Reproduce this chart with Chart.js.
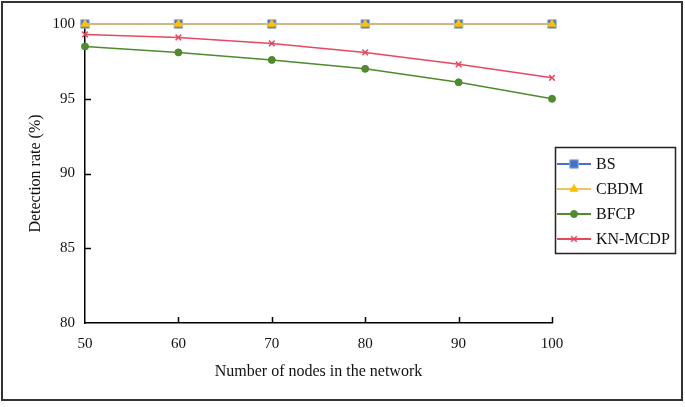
<!DOCTYPE html>
<html>
<head>
<meta charset="utf-8">
<script src="https://cdn.jsdelivr.net/npm/chart.js@4/dist/chart.umd.min.js"></script>
<style>
  html, body { margin: 0; padding: 0; background: #fff; }
  canvas { display: block; }
</style>
</head>
<body>
<canvas id="detChart" width="685" height="407"></canvas>
<script>
// values
const nodes = [50, 60, 70, 80, 90, 100];
const bsRate = [100, 100, 100, 100, 100, 100];
const cbdmRate = [100, 100, 100, 100, 100, 100];
const bfcpRate = [98.5, 98.1, 97.6, 97.0, 96.1, 95.0];
const knRate = [99.3, 99.1, 98.7, 98.1, 97.3, 96.4];
const seriesNames = ["BS", "CBDM", "BFCP", "KN-MCDP"];

const serif = "'Liberation Serif', 'Times New Roman', serif";

function toPoints(vals){
    return nodes.map((n, i) => ({x: n, y: vals[i]}));
}

// draws one marker shape for the legend, same geometry as chart.js
function drawMarker(ctx, ds, x, y){
    let r = ds.pointRadius;
    ctx.save();
    ctx.fillStyle = ds.pointBackgroundColor;
    ctx.strokeStyle = ds.pointBorderColor;
    ctx.lineWidth = ds.pointBorderWidth;
    ctx.beginPath();
    if(ds.pointStyle === "rect"){
        let s = r * Math.SQRT1_2;
        ctx.rect(x - s, y - s, 2 * s, 2 * s);
        ctx.fill();
        ctx.stroke();
    }
    else if(ds.pointStyle === "triangle"){
        ctx.moveTo(x, y - r);
        ctx.lineTo(x + r * 0.866, y + r * 0.5);
        ctx.lineTo(x - r * 0.866, y + r * 0.5);
        ctx.closePath();
        ctx.fill();
        ctx.stroke();
    }
    else if(ds.pointStyle === "circle"){
        ctx.arc(x, y, r, 0, Math.PI * 2);
        ctx.fill();
        ctx.stroke();
    }
    else {
        let s = r * Math.SQRT1_2;
        ctx.moveTo(x - s, y - s);
        ctx.lineTo(x + s, y + s);
        ctx.moveTo(x + s, y - s);
        ctx.lineTo(x - s, y + s);
        ctx.stroke();
    }
    ctx.restore();
}

const decorPlugin = {
    id: "decor",
    afterDraw(chart){
        const ctx = chart.ctx;
        const xs = chart.scales.x;
        const ys = chart.scales.y;
        const area = chart.chartArea;

        ctx.save();
        // inward tick marks
        ctx.strokeStyle = "#000";
        ctx.lineWidth = 1.5;
        ctx.beginPath();
        xs.ticks.forEach(t => {
            if(t.value === xs.min) return;
            let px = Math.round(xs.getPixelForValue(t.value)) + 0.5;
            ctx.moveTo(px, area.bottom);
            ctx.lineTo(px, area.bottom - 6);
        });
        ys.ticks.forEach(t => {
            if(t.value === ys.min || t.value === ys.max) return;
            let py = Math.round(ys.getPixelForValue(t.value)) + 0.5;
            ctx.moveTo(area.left, py);
            ctx.lineTo(area.left + 6, py);
        });
        ctx.stroke();

        // legend box
        const lx = 555, ly = 147, lw = 120, lh = 106;
        ctx.lineWidth = 1.5;
        ctx.strokeStyle = "#222";
        ctx.strokeRect(lx + 0.5, ly + 0.5, lw, lh);

        ctx.font = "16px " + serif;
        ctx.textBaseline = "middle";
        chart.data.datasets.forEach((ds, i) => {
            let cy = ly + 17 + i * 25;
            ctx.strokeStyle = ds.borderColor;
            ctx.lineWidth = 2;
            ctx.beginPath();
            ctx.moveTo(lx + 2, cy);
            ctx.lineTo(lx + 36, cy);
            ctx.stroke();
            drawMarker(ctx, ds, lx + 19, cy);
            ctx.fillStyle = "#111";
            ctx.fillText(seriesNames[i], lx + 41, cy + 1);
        });

        // outer frame
        ctx.lineWidth = 2;
        ctx.strokeStyle = "#333";
        ctx.strokeRect(2, 2, 680, 398);
        ctx.restore();
    }
};

const ctx = document.getElementById("detChart");

new Chart(ctx, {
    type: "line",
    data: {
        datasets: [
            {
                label: seriesNames[0],
                data: toPoints(bsRate),
                borderColor: "#4472C4",
                borderWidth: 1.5,
                pointStyle: "rect",
                pointRadius: 6,
                pointBackgroundColor: "#4472C4",
                pointBorderColor: "#9AB3E0",
                pointBorderWidth: 1,
                order: 2,
                clip: false
            },
            {
                label: seriesNames[1],
                data: toPoints(cbdmRate),
                borderColor: "#EDC463",
                borderWidth: 1.5,
                pointStyle: "triangle",
                pointRadius: 4.5,
                pointBackgroundColor: "#FFC000",
                pointBorderColor: "#FFC000",
                pointBorderWidth: 1,
                order: 1,
                clip: false
            },
            {
                label: seriesNames[2],
                data: toPoints(bfcpRate),
                borderColor: "#4E8A2E",
                borderWidth: 1.5,
                pointStyle: "circle",
                pointRadius: 3.5,
                pointBackgroundColor: "#4E8A2E",
                pointBorderColor: "#4E8A2E",
                pointBorderWidth: 1,
                order: 3,
                clip: false
            },
            {
                label: seriesNames[3],
                data: toPoints(knRate),
                borderColor: "#E8485E",
                borderWidth: 1.5,
                pointStyle: "crossRot",
                pointRadius: 4,
                pointBackgroundColor: "#E8485E",
                pointBorderColor: "#E8485E",
                pointBorderWidth: 1.5,
                order: 4,
                clip: false
            }
        ]
    },
    options: {
        responsive: false,
        animation: false,
        layout: {
            padding: {top: 24, right: 133, left: 0, bottom: 0}
        },
        plugins: {
            legend: {display: false},
            tooltip: {enabled: false}
        },
        scales: {
            x: {
                type: "linear",
                min: 50,
                max: 100,
                afterFit: s => { s.height = 84; },
                ticks: {
                    stepSize: 10,
                    color: "#111",
                    padding: 12,
                    font: {family: serif, size: 15}
                },
                grid: {display: false, drawTicks: false},
                border: {display: true, color: "#000", width: 1.5},
                title: {
                    display: true,
                    text: "Number of nodes in the network",
                    color: "#111",
                    font: {family: serif, size: 16},
                    padding: {top: 0, bottom: 26}
                }
            },
            y: {
                min: 80,
                max: 100,
                afterFit: s => { s.width = 85; },
                ticks: {
                    stepSize: 5,
                    color: "#111",
                    padding: 10,
                    font: {family: serif, size: 15}
                },
                grid: {display: false, drawTicks: false},
                border: {display: true, color: "#000", width: 1.5},
                title: {
                    display: true,
                    text: "Detection rate (%)",
                    color: "#111",
                    font: {family: serif, size: 16},
                    padding: {top: 26, bottom: 0}
                }
            }
        }
    },
    plugins: [decorPlugin]
});
</script>
</body>
</html>
